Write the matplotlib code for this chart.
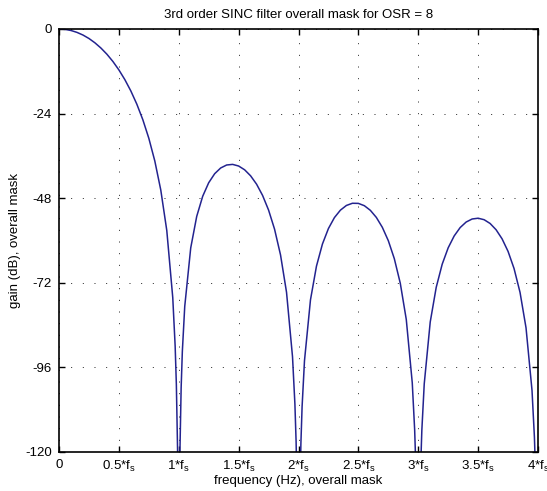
import matplotlib.pyplot as plt

plt.rcParams['font.family'] = ['Liberation Sans', 'DejaVu Sans']
plt.rcParams['axes.unicode_minus'] = False
plt.rcParams['mathtext.fontset'] = 'custom'
plt.rcParams['mathtext.rm'] = 'Liberation Sans'

# curve, frequency in multiples of fs, gain in dB
freq_lobe0 = [0, 0.05, 0.1, 0.15, 0.2, 0.25, 0.3, 0.35, 0.4, 0.45, 0.5, 0.55, 0.6, 0.65,
              0.7, 0.75, 0.8, 0.85, 0.9, 0.95, 0.97, 0.98, 0.99, 1.0]
gain_lobe0 = [0, -0.11, -0.42, -0.96, -1.71, -2.69, -3.92, -5.40, -7.15, -9.21, -11.60, -14.37,
              -17.58, -21.33, -25.73, -30.99, -37.43, -45.69, -57.14, -76.22, -89.98, -100.79,
              -119.08, -150]

freq_lobe1 = [1.01, 1.02, 1.03, 1.05, 1.1, 1.15, 1.2, 1.25, 1.3, 1.35, 1.4, 1.45, 1.5, 1.55,
              1.6, 1.65, 1.7, 1.75, 1.8, 1.85, 1.9, 1.95, 1.97, 1.98, 1.99, 2.0]
gain_lobe1 = [-119.57, -101.77, -91.47, -78.70, -62.10, -53.16, -47.45, -43.62, -41.05, -39.43,
              -38.58, -38.41, -38.87, -39.94, -41.65, -44.03, -47.21, -51.36, -56.78, -64.11,
              -74.69, -92.97, -106.42, -117.08, -135.2, -150]

freq_lobe2 = [2.01, 2.02, 2.03, 2.05, 2.1, 2.15, 2.2, 2.25, 2.3, 2.35, 2.4, 2.45, 2.5, 2.55,
              2.6, 2.65, 2.7, 2.75, 2.8, 2.85, 2.9, 2.95, 2.97, 2.98, 3.0]
gain_lobe2 = [-135.5, -117.59, -107.14, -94.10, -76.84, -67.28, -60.99, -56.60, -53.50, -51.39,
              -50.06, -49.44, -49.47, -50.13, -51.44, -53.45, -56.26, -60.05, -65.14, -72.13,
              -82.40, -100.37, -113.70, -124.30, -150]

freq_lobe3 = [3.01, 3.02, 3.03, 3.05, 3.1, 3.15, 3.2, 3.25, 3.3, 3.35, 3.4, 3.45, 3.5, 3.55,
              3.6, 3.65, 3.7, 3.75, 3.8, 3.85, 3.9, 3.95, 3.97, 3.98, 4.0]
gain_lobe3 = [-142, -124.34, -113.83, -100.67, -83.12, -73.29, -66.72, -62.07, -58.71, -56.33,
              -54.76, -53.90, -53.68, -54.10, -55.17, -56.95, -59.53, -63.09, -67.95, -74.72,
              -84.77, -102.52, -115.76, -126.32, -150]

x_ticks = [0, 0.5, 1, 1.5, 2, 2.5, 3, 3.5, 4]
x_labels = ['0', r'0.5*f$_\mathrm{s}$', r'1*f$_\mathrm{s}$', r'1.5*f$_\mathrm{s}$',
            r'2*f$_\mathrm{s}$', r'2.5*f$_\mathrm{s}$', r'3*f$_\mathrm{s}$',
            r'3.5*f$_\mathrm{s}$', r'4*f$_\mathrm{s}$']
y_ticks = [0, -24, -48, -72, -96, -120]

freq = freq_lobe0 + freq_lobe1 + freq_lobe2 + freq_lobe3
gain = gain_lobe0 + gain_lobe1 + gain_lobe2 + gain_lobe3

fig = plt.figure(figsize=(5.47, 4.91), dpi=100)
ax = fig.add_axes([59 / 547, 1 - 452 / 491, (538 - 59) / 547, (452 - 29) / 491])

ax.plot(freq, gain, color='#23238f', lw=1.1)

ax.set_xlim(0, 4)
ax.set_ylim(-120, 0)
ax.set_xticks(x_ticks)
ax.set_xticklabels(x_labels)
ax.set_yticks(y_ticks)

ax.grid(True, color='#222222', lw=0.7, linestyle=(0, (1, 11)))
ax.tick_params(direction='in', length=4, width=1, top=True, right=True,
               labelsize=9.5, pad=5)
for s in ax.spines.values():
    s.set_linewidth(1.2)

ax.set_title('3rd order SINC filter overall mask for OSR = 8', fontsize=9.5, pad=8)
ax.set_xlabel('frequency (Hz), overall mask', fontsize=9.5, labelpad=1)
ax.set_ylabel('gain (dB), overall mask', fontsize=9.5, labelpad=3)

fig.savefig('out.png', dpi=100)
